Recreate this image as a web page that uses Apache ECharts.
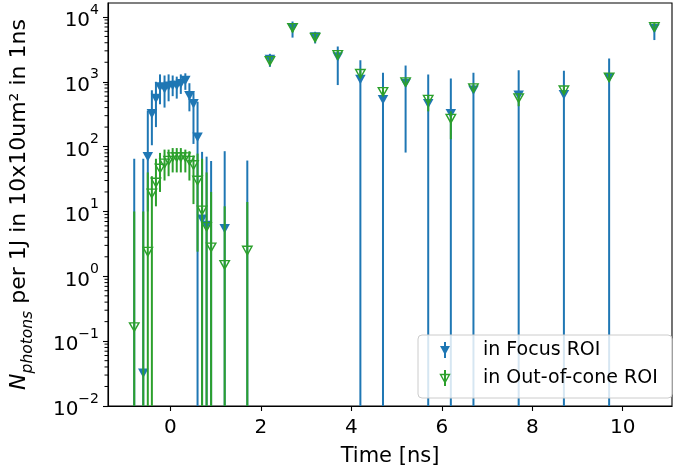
<!DOCTYPE html>
<html>
<head>
<meta charset="utf-8">
<script src="https://cdn.jsdelivr.net/npm/echarts@6/dist/echarts.min.js"></script>
<style>
  html, body { margin: 0; padding: 0; background: #fff; }
  #chart { width: 673px; height: 472px; }
</style>
</head>
<body>
<div id="chart"></div>
<script>
// ---- data ----
const time = [-0.8, -0.6, -0.5, -0.41, -0.32, -0.23, -0.13, -0.04, 0.05, 0.14, 0.23, 0.33, 0.42, 0.51, 0.6,
  0.7, 0.8, 0.9, 1.2, 1.7, 2.2, 2.7, 3.2, 3.7, 4.2, 4.7, 5.2, 5.7, 6.2, 6.7, 7.7, 8.7, 9.7, 10.7];

const focusVal = [null, 0.032, 70, 320, 550, 830, 780, 850, 880, 880, 930, 1050, 610, 460, 140,
  7.6, 6.1, null, 5.4, null, 2200, 6800, 4900, 2400, 1080, 530, 940, 460, 320, 740, 620, 630, 1150, 6600];
const focusLo = [0, 0, 10, 105, 200, 450, 400, 500, 600, 550, 650, 750, 350, 110, 0,
  0, 0, 0, 0, 0, 1700, 4800, 3900, 890, 0, 0, 81, 0, 0, 0, 0, 0, 0, 4400];
const focusHi = [65, 65, 360, 740, 1000, 1300, 1250, 1300, 1250, 1200, 1300, 1350, 950, 720, 490,
  83, 70, 60, 85, 61, 2700, 8500, 5900, 3500, 2140, 1380, 1780, 1290, 1120, 1380, 1510, 1480, 2290, 7900];

const outVal = [0.165, null, 2.4, 19, 28, 46, 55, 61, 69, 69, 69, 69, 61, 52, 30,
  10.4, 5.8, 2.8, 1.5, 2.5, 2100, 6800, 4800, 2600, 1330, 700, 990, 530, 270, 800, 560, 740, 1170, 7000];
const outLo = [0, 0, 0, 0, 12, 20, 30, 35, 40, 40, 40, 40, 30, 13, 2.4,
  0, 0, 0, 0, 0, 1800, 5800, 4200, 2200, 1150, 600, 870, 350, 130, 700, 420, 650, 1000, 6000];
const outHi = [10, 10, 40, 35, 65, 80, 90, 90, 95, 95, 95, 90, 85, 73, 78,
  65, 40, 20, 12, 14, 2500, 8000, 5600, 3000, 1500, 800, 1130, 620, 350, 900, 660, 850, 1350, 8000];

const xTicks = [0, 2, 4, 6, 8, 10];
const yTicks = [0.01, 0.1, 1, 10, 100, 1000, 10000];
const seriesNames = ['in Focus ROI', 'in Out-of-cone ROI'];

// ---- styling ----
const FONT = 'DejaVu Sans';
const BLUE = '#1f77b4';
const GREEN = '#2ca02c';
const X_MIN = -1.38, X_MAX = 11.09;
const Y_MIN = 0.01, Y_MAX = 16400;

const minorVals = [];
for (let e = -2; e <= 4; e++) {
  for (let k = 2; k <= 9; k++) {
    const v = k * Math.pow(10, e);
    if (v < Y_MAX) minorVals.push([X_MIN, v]);
  }
}

function barData(lo, hi) {
  return time.map((t, i) => [t, lo[i], hi[i]]);
}
function markerData(vals) {
  const out = [];
  time.forEach((t, i) => { if (vals[i] != null) out.push([t, vals[i]]); });
  return out;
}
function barRenderer(color) {
  return function (params, api) {
    const t = api.value(0);
    let lo = api.value(1), hi = api.value(2);
    if (!(lo > Y_MIN)) lo = Y_MIN;
    if (hi > Y_MAX) hi = Y_MAX;
    const p1 = api.coord([t, lo]);
    const p2 = api.coord([t, hi]);
    return {
      type: 'line',
      shape: { x1: p1[0], y1: p1[1], x2: p2[0], y2: p2[1] },
      style: { stroke: color, lineWidth: 2 }
    };
  };
}

const chart = echarts.init(document.getElementById('chart'), null, { renderer: 'canvas' });

const option = {
  animation: false,
  backgroundColor: '#ffffff',
  textStyle: { fontFamily: FONT },
  grid: {
    left: 107, right: 1, top: 3, bottom: 64,
    show: true, borderColor: '#000', borderWidth: 1.1, backgroundColor: 'transparent'
  },
  xAxis: {
    type: 'value',
    min: X_MIN, max: X_MAX,
    name: 'Time [ns]',
    nameLocation: 'middle',
    nameGap: 40,
    nameTextStyle: { fontFamily: FONT, fontSize: 21, color: '#000' },
    axisLine: { show: true, onZero: false, lineStyle: { color: '#000', width: 1.1 } },
    axisTick: { show: true, length: 5, lineStyle: { color: '#000', width: 1.1 }, customValues: xTicks },
    axisLabel: { customValues: xTicks, fontFamily: FONT, fontSize: 20, color: '#000', margin: 12,
      formatter: v => String(v) },
    splitLine: { show: false }
  },
  yAxis: {
    type: 'log',
    logBase: 10,
    min: Y_MIN, max: Y_MAX,
    name: '{i|N}{sub|photons}{t| per 1J in 10x10um² in 1ns}',
    nameLocation: 'middle',
    nameRotate: 90,
    nameGap: 72,
    nameTextStyle: {
      color: '#000',
      rich: {
        i: { fontFamily: FONT, fontSize: 22, fontStyle: 'italic', color: '#000', lineHeight: 28, verticalAlign: 'top' },
        sub: { fontFamily: FONT, fontSize: 15.5, fontStyle: 'italic', color: '#000', lineHeight: 18, verticalAlign: 'bottom' },
        t: { fontFamily: FONT, fontSize: 22, color: '#000', lineHeight: 28, verticalAlign: 'top' }
      }
    },
    axisLine: { show: true, onZero: false, lineStyle: { color: '#000', width: 1.1 } },
    axisTick: { show: true, length: 5, lineStyle: { color: '#000', width: 1.1 }, customValues: yTicks },
    axisLabel: {
      customValues: yTicks,
      margin: 9,
      formatter: function (v) {
        const e = Math.round(Math.log10(v));
        return '{b|10}{s|' + (e < 0 ? '\u2212' + (-e) : e) + '}';
      },
      rich: {
        b: { fontFamily: FONT, fontSize: 20, color: '#000', lineHeight: 28, verticalAlign: 'bottom' },
        s: { fontFamily: FONT, fontSize: 14, color: '#000', lineHeight: 14, verticalAlign: 'top' }
      }
    },
    splitLine: { show: false },
    minorTick: { show: false }
  },
  series: [
    {
      name: 'minor ticks',
      type: 'custom',
      silent: true,
      clip: false,
      data: minorVals,
      renderItem: function (params, api) {
        const p = api.coord([api.value(0), api.value(1)]);
        return { type: 'line', shape: { x1: p[0], y1: p[1], x2: p[0] - 3.5, y2: p[1] },
          style: { stroke: '#000', lineWidth: 1 } };
      },
      z: 1
    },
    {
      name: seriesNames[0] + ' err',
      type: 'custom',
      data: barData(focusLo, focusHi),
      encode: { x: 0, y: [1, 2] },
      renderItem: barRenderer(BLUE),
      z: 2
    },
    {
      name: seriesNames[0],
      type: 'scatter',
      data: markerData(focusVal),
      symbol: 'triangle',
      symbolRotate: 180,
      symbolSize: [10.5, 9.5],
      itemStyle: { color: BLUE, opacity: 1 },
      z: 3
    },
    {
      name: seriesNames[1] + ' err',
      type: 'custom',
      data: barData(outLo, outHi),
      encode: { x: 0, y: [1, 2] },
      renderItem: barRenderer(GREEN),
      z: 4
    },
    {
      name: seriesNames[1],
      type: 'scatter',
      data: markerData(outVal),
      symbol: 'triangle',
      symbolRotate: 180,
      symbolSize: [9.5, 8.5],
      itemStyle: { color: 'rgba(0,0,0,0)', borderColor: GREEN, borderWidth: 1.4, opacity: 1 },
      z: 5
    }
  ],
  graphic: [
    { type: 'rect', z: 100, shape: { x: 418, y: 335, width: 254, height: 63, r: 4 },
      style: { fill: 'rgba(255,255,255,0.82)', stroke: '#cccccc', lineWidth: 1 } },
    { type: 'line', z: 101, shape: { x1: 445, y1: 342, x2: 445, y2: 358 }, style: { stroke: BLUE, lineWidth: 2 } },
    { type: 'polygon', z: 102, shape: { points: [[440, 346], [450, 346], [445, 355]] }, style: { fill: BLUE } },
    { type: 'text', z: 101, x: 483, y: 350, style: { text: seriesNames[0], fontFamily: FONT, fontSize: 19, fill: '#000',
      verticalAlign: 'middle', align: 'left' } },
    { type: 'line', z: 101, shape: { x1: 445, y1: 370, x2: 445, y2: 386 }, style: { stroke: GREEN, lineWidth: 2 } },
    { type: 'polygon', z: 102, shape: { points: [[440.5, 374.5], [449.5, 374.5], [445, 382.5]] },
      style: { fill: 'rgba(0,0,0,0)', stroke: GREEN, lineWidth: 1.4 } },
    { type: 'text', z: 101, x: 483, y: 378, style: { text: seriesNames[1], fontFamily: FONT, fontSize: 19, fill: '#000',
      verticalAlign: 'middle', align: 'left' } }
  ]
};

chart.setOption(option);
</script>
</body>
</html>
